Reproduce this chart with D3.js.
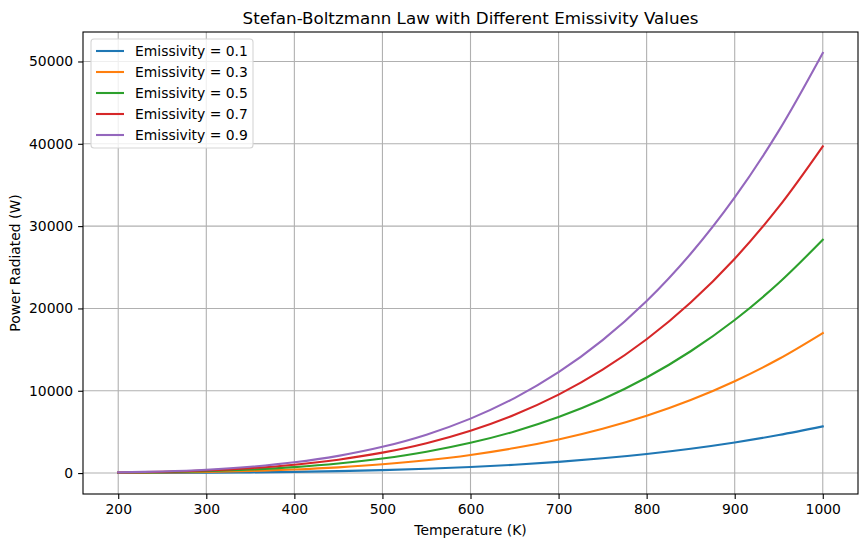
<!DOCTYPE html>
<html>
<head>
<meta charset="utf-8">
<script src="https://cdn.jsdelivr.net/npm/d3@7"></script>
<style>
  body { margin: 0; background: #fff; }
  svg { font-family: "DejaVu Sans", sans-serif; }
</style>
</head>
<body>
<svg id="chart" width="868" height="547"></svg>
<script>
// Data
const temperatures = [200, 250, 300, 350, 400, 450, 500, 550, 600, 650, 700, 750, 800, 850, 900, 950, 1000];
const emissivities = ["0.1", "0.3", "0.5", "0.7", "0.9"];
const power01 = [9, 22, 46, 85, 145, 233, 354, 519, 735, 1012, 1361, 1794, 2322, 2960, 3720, 4618, 5670];
const power03 = [27, 66, 138, 255, 435, 698, 1063, 1556, 2204, 3036, 4084, 5382, 6967, 8879, 11160, 13855, 17010];
const power05 = [45, 111, 230, 425, 726, 1163, 1772, 2594, 3674, 5060, 6807, 8970, 11612, 14799, 18600, 23091, 28350];
const power07 = [64, 155, 321, 596, 1016, 1628, 2481, 3632, 5144, 7085, 9530, 12558, 16257, 20719, 26041, 32328, 39690];
const power09 = [82, 199, 413, 766, 1306, 2093, 3189, 4669, 6613, 9109, 12253, 16146, 20902, 26638, 33481, 41565, 51030];
const xTicks = [200, 300, 400, 500, 600, 700, 800, 900, 1000];
const yTicks = [0, 10000, 20000, 30000, 40000, 50000];
const colors = ["#1f77b4", "#ff7f0e", "#2ca02c", "#d62728", "#9467bd"];

const seriesValues = [power01, power03, power05, power07, power09];
const series = emissivities.map((e, i) => ({
  label: "Emissivity = " + e,
  color: colors[i],
  points: temperatures.map((t, j) => [t, seriesValues[i][j]])
}));

const svg = d3.select("#chart");
const L = 83, R = 858, T = 32, B = 494;
const FS = 13.9;

const x = d3.scaleLinear().domain([160, 1040]).range([L, R]);
const allVals = seriesValues.flat();
const yMin = d3.min(allVals), yMax = d3.max(allVals);
const pad = (yMax - yMin) * 0.05;
const y = d3.scaleLinear().domain([yMin - pad, yMax + pad]).range([B, T]);

// grid
const grid = svg.append("g");
grid.selectAll("line.gx").data(xTicks).enter().append("line")
  .attr("x1", d => x(d)).attr("x2", d => x(d)).attr("y1", T).attr("y2", B)
  .attr("stroke", "#b0b0b0").attr("stroke-width", 1.1);
grid.selectAll("line.gy").data(yTicks).enter().append("line")
  .attr("x1", L).attr("x2", R).attr("y1", d => y(d)).attr("y2", d => y(d))
  .attr("stroke", "#b0b0b0").attr("stroke-width", 1.1);

// lines
const line = d3.line().x(d => x(d[0])).y(d => y(d[1])).curve(d3.curveCatmullRom);
svg.append("clipPath").attr("id", "clip").append("rect")
  .attr("x", L).attr("y", T).attr("width", R - L).attr("height", B - T);
svg.append("g").attr("clip-path", "url(#clip)").selectAll("path").data(series).enter().append("path")
  .attr("d", d => line(d.points))
  .attr("fill", "none").attr("stroke", d => d.color).attr("stroke-width", 2.1)
  .attr("stroke-linecap", "square");

// axes
const xAxis = d3.axisBottom(x).tickValues(xTicks).tickSize(4.9).tickPadding(4.9).tickFormat(d3.format("d"));
const yAxis = d3.axisLeft(y).tickValues(yTicks).tickSize(4.9).tickPadding(4.9).tickFormat(d3.format("d"));
const gx = svg.append("g").attr("transform", `translate(0,${B})`).call(xAxis);
const gy = svg.append("g").attr("transform", `translate(${L},0)`).call(yAxis);
[gx, gy].forEach(g => {
  g.select(".domain").remove();
  g.selectAll(".tick line").attr("stroke", "#000").attr("stroke-width", 1.1);
  g.selectAll(".tick text").attr("font-size", FS).attr("fill", "#000")
    .attr("font-family", "DejaVu Sans, sans-serif");
});

// frame
svg.append("rect").attr("x", L).attr("y", T).attr("width", R - L).attr("height", B - T)
  .attr("fill", "none").attr("stroke", "#000").attr("stroke-width", 1.1);

// title and labels
svg.append("text").attr("x", (L + R) / 2).attr("y", 24).attr("text-anchor", "middle")
  .attr("font-size", 16.7).text("Stefan-Boltzmann Law with Different Emissivity Values");
svg.append("text").attr("x", (L + R) / 2).attr("y", 535).attr("text-anchor", "middle")
  .attr("font-size", FS).text("Temperature (K)");
svg.append("text").attr("transform", `translate(20,${(T + B) / 2}) rotate(-90)`)
  .attr("text-anchor", "middle").attr("font-size", FS).text("Power Radiated (W)");

// legend
const lg = svg.append("g");
lg.append("rect").attr("x", 91).attr("y", 39).attr("width", 162).attr("height", 109)
  .attr("rx", 3).attr("fill", "#fff").attr("fill-opacity", 0.8)
  .attr("stroke", "#d5d5d5").attr("stroke-width", 1.1);
series.forEach((s, i) => {
  const yy = 51 + i * 21;
  lg.append("line").attr("x1", 96).attr("x2", 124).attr("y1", yy).attr("y2", yy)
    .attr("stroke", s.color).attr("stroke-width", 2.1);
  lg.append("text").attr("x", 135).attr("y", yy + 5).attr("font-size", FS).text(s.label);
});
</script>
</body>
</html>
